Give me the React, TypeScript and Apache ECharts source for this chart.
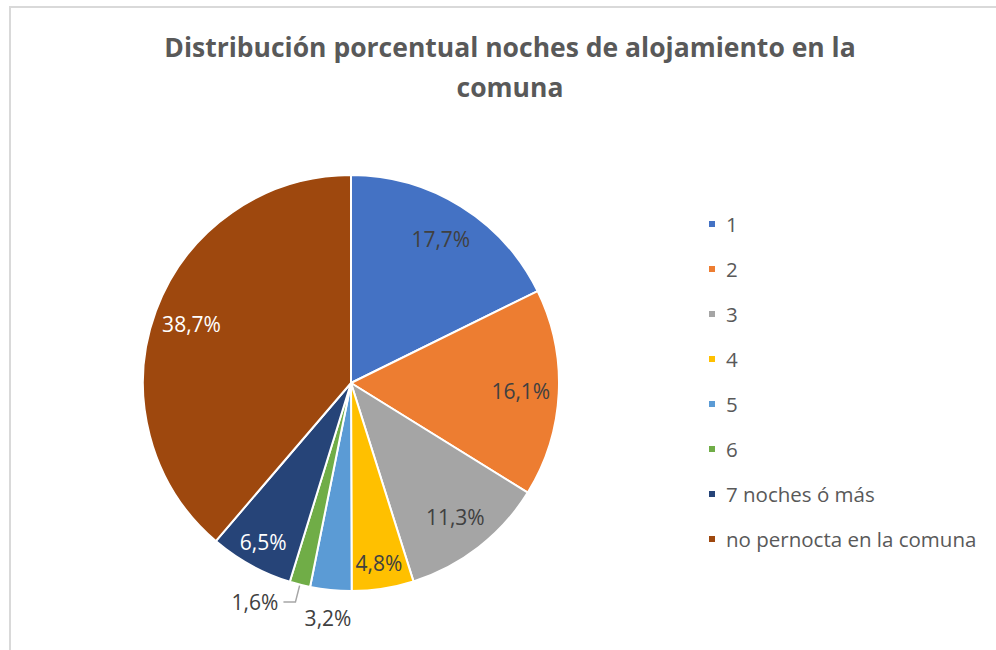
import React, { useEffect, useRef } from "react";
import * as echarts from "echarts";

const categories = ["1", "2", "3", "4", "5", "6", "7 noches ó más", "no pernocta en la comuna"];
const percentages = [17.7, 16.1, 11.3, 4.8, 3.2, 1.6, 6.5, 38.7];
const colors = ["#4472C4", "#ED7D31", "#A5A5A5", "#FFC000", "#5B9BD5", "#70AD47", "#264478", "#9E480E"];
const labelColors = ["#404040", "#404040", "#404040", "#404040", "#404040", "#404040", "#ffffff", "#ffffff"];
// which label placement each slice uses
const labelRing = ["mid", "mid", "mid", "far", "outer", "line", "far", "mid"];
const titleText = "Distribución porcentual noches de alojamiento en la\ncomuna";

const FONT = "'Open Sans', sans-serif";
const CX = 351;
const CY = 383;
const R = 208;

function labelSeries(ring: string, radius: [number, number]) {
  return {
    type: "pie",
    silent: true,
    center: [CX, CY],
    radius,
    startAngle: 90,
    clockwise: true,
    avoidLabelOverlap: false,
    emphasis: { disabled: true },
    itemStyle: { color: "transparent", borderWidth: 0 },
    labelLine: { show: false },
    data: categories.map((name, i) => ({
      name,
      value: percentages[i],
      label: {
        show: labelRing[i] === ring,
        position: "inside",
        formatter: () => percentages[i].toFixed(1).replace(".", ",") + "%",
        color: labelColors[i],
        fontSize: 21,
        fontFamily: FONT,
      },
    })),
  };
}

export default function App() {
  const ref = useRef<HTMLDivElement>(null);
  useEffect(() => {
    document.body.style.margin = "0";
    const chart = echarts.init(ref.current!, null, { renderer: "svg" });
    chart.setOption({
      animation: false,
      backgroundColor: "#ffffff",
      graphic: [
        {
          type: "rect",
          shape: { x: 10, y: 7, width: 1100, height: 800 },
          style: { fill: "none", stroke: "#d9d9d9", lineWidth: 2 },
          silent: true,
        },
        {
          type: "text",
          x: 510,
          y: 67,
          style: {
            text: titleText,
            align: "center",
            verticalAlign: "middle",
            fontFamily: FONT,
            fontWeight: "bold",
            fontSize: 26.5,
            lineHeight: 40,
            fill: "#595959",
          },
        },
      ],
      legend: {
        orient: "vertical",
        left: 702,
        top: 208,
        icon: "rect",
        itemWidth: 8,
        itemHeight: 8,
        itemGap: 23,
        data: categories,
        textStyle: {
          color: "#595959",
          fontSize: 20.5,
          fontFamily: FONT,
          lineHeight: 22,
          padding: [0, 0, 0, 5],
        },
      },
      series: [
        {
          type: "pie",
          center: [CX, CY],
          radius: [0, R],
          startAngle: 90,
          clockwise: true,
          avoidLabelOverlap: false,
          emphasis: { disabled: true },
          itemStyle: { borderColor: "#ffffff", borderWidth: 2 },
          labelLine: {
            show: true,
            length: 18,
            length2: 12,
            lineStyle: { color: "#a6a6a6", width: 1.5 },
          },
          data: categories.map((name, i) => ({
            name,
            value: percentages[i],
            itemStyle: { color: colors[i] },
            label: {
              show: labelRing[i] === "line",
              position: "outside",
              formatter: () => percentages[i].toFixed(1).replace(".", ",") + "%",
              color: "#404040",
              fontSize: 21,
              fontFamily: FONT,
              distanceToLabelLine: 5,
            },
            labelLine: { show: labelRing[i] === "line" },
          })),
        },
        labelSeries("mid", [126, R]),
        labelSeries("far", [150, R]),
        labelSeries("outer", [216, 250]),
      ],
    });
    return () => chart.dispose();
  }, []);
  return (
    <div
      ref={ref}
      style={{ position: "absolute", left: 0, top: 0, width: 996, height: 650 }}
    />
  );
}
